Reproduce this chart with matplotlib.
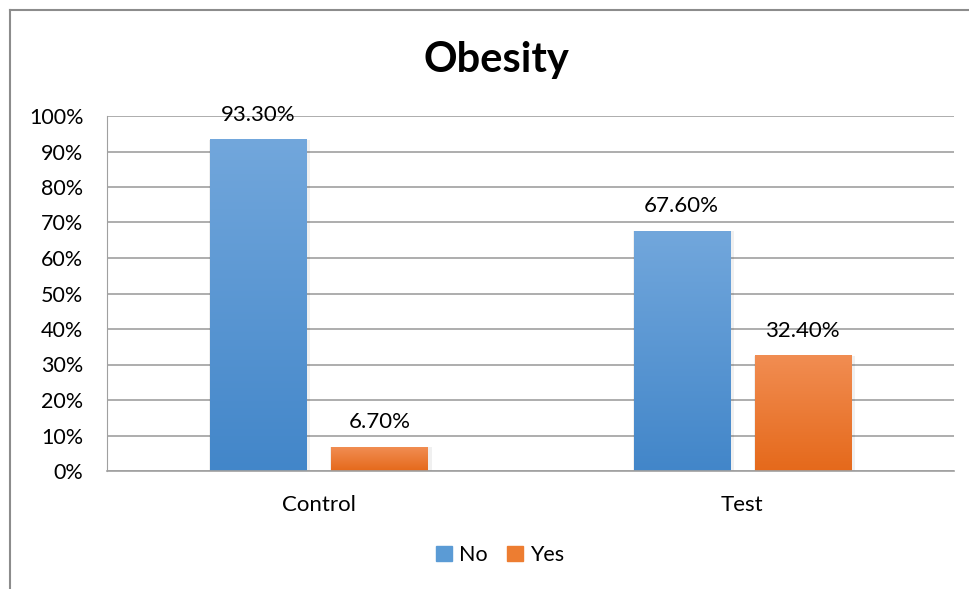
import matplotlib.pyplot as plt
import numpy as np
from matplotlib.colors import LinearSegmentedColormap
from matplotlib.lines import Line2D

groups = ['Control', 'Test']
series = ['No', 'Yes']
no_vals = [93.3, 67.6]
yes_vals = [6.7, 32.4]
y_ticks = [0, 10, 20, 30, 40, 50, 60, 70, 80, 90, 100]

plt.rcParams['font.family'] = ['Lato', 'DejaVu Sans']

# top/bottom gradient colours per series
grad = {
    'No': ('#72A7DC', '#4286C9'),
    'Yes': ('#F18D52', '#E5691B'),
}

fig = plt.figure(figsize=(9.69, 5.89), dpi=100)
ax = fig.add_axes([107 / 969, 1 - 471 / 589, (954 - 107) / 969, (471 - 116) / 589])

x = np.arange(len(groups))
w = 0.227
off = 0.143

bars_no = ax.bar(x - off, no_vals, w, color=grad['No'][1], label='No', zorder=2)
bars_yes = ax.bar(x + off, yes_vals, w, color=grad['Yes'][1], label='Yes', zorder=2)

grad_img = np.linspace(0, 1, 256).reshape(-1, 1)
for bars, name in [(bars_no, 'No'), (bars_yes, 'Yes')]:
    cmap = LinearSegmentedColormap.from_list(name, [grad[name][1], grad[name][0]])
    for b in bars:
        x0, y0 = b.get_x(), b.get_y()
        x1, y1 = x0 + b.get_width(), y0 + b.get_height()
        # soft shadow
        ax.bar(b.get_x() + b.get_width() / 2 + 0.004, b.get_height(), b.get_width() + 0.012,
               color='#000000', alpha=0.06, zorder=1.5)
        ax.imshow(grad_img, cmap=cmap, origin='lower', aspect='auto',
                  extent=[x0, x1, y0, y1], zorder=2.5)
        ax.annotate(f'{b.get_height():.2f}%', (b.get_x() + b.get_width() / 2, y1),
                    xytext=(0, 11), textcoords='offset points', ha='center', va='bottom',
                    fontsize=16, color='#000000')

ax.set_xlim(-0.5, 1.5)
ax.set_ylim(0, 100)
ax.set_yticks(y_ticks)
ax.set_yticklabels([f'{t}%' for t in y_ticks], fontsize=15.5)
ax.set_xticks(x)
ax.set_xticklabels(groups, fontsize=16)
ax.tick_params(axis='y', length=0, pad=17)
ax.tick_params(axis='x', length=0, pad=17)
ax.yaxis.grid(True, color='#A0A0A0', linewidth=1.2, zorder=0)
ax.set_axisbelow(True)
for s in ['top', 'right']:
    ax.spines[s].set_visible(False)
ax.spines['left'].set_color('#A0A0A0')
ax.spines['bottom'].set_color('#A0A0A0')
ax.spines['bottom'].set_linewidth(1.2)

fig.text(496 / 969, 1 - 60 / 589, 'Obesity', ha='center', va='center',
         fontsize=30, fontweight='bold')

h1 = plt.Rectangle((0, 0), 1, 1, color='#5B9BD5')
h2 = plt.Rectangle((0, 0), 1, 1, color='#ED7D31')
fig.legend([h1, h2], series, loc='center', bbox_to_anchor=(500 / 969, 1 - 555 / 589),
           ncol=2, frameon=False, fontsize=15.5, handlelength=0.75, handleheight=0.75,
           handletextpad=0.3, columnspacing=0.9)

# chart border (top and left visible)
fig.add_artist(Line2D([10 / 969, 1], [1 - 10 / 589, 1 - 10 / 589], color='#8C8C8C', linewidth=1.5))
fig.add_artist(Line2D([10 / 969, 10 / 969], [0, 1 - 10 / 589], color='#8C8C8C', linewidth=1.5))

fig.savefig('out.png', dpi=100)
